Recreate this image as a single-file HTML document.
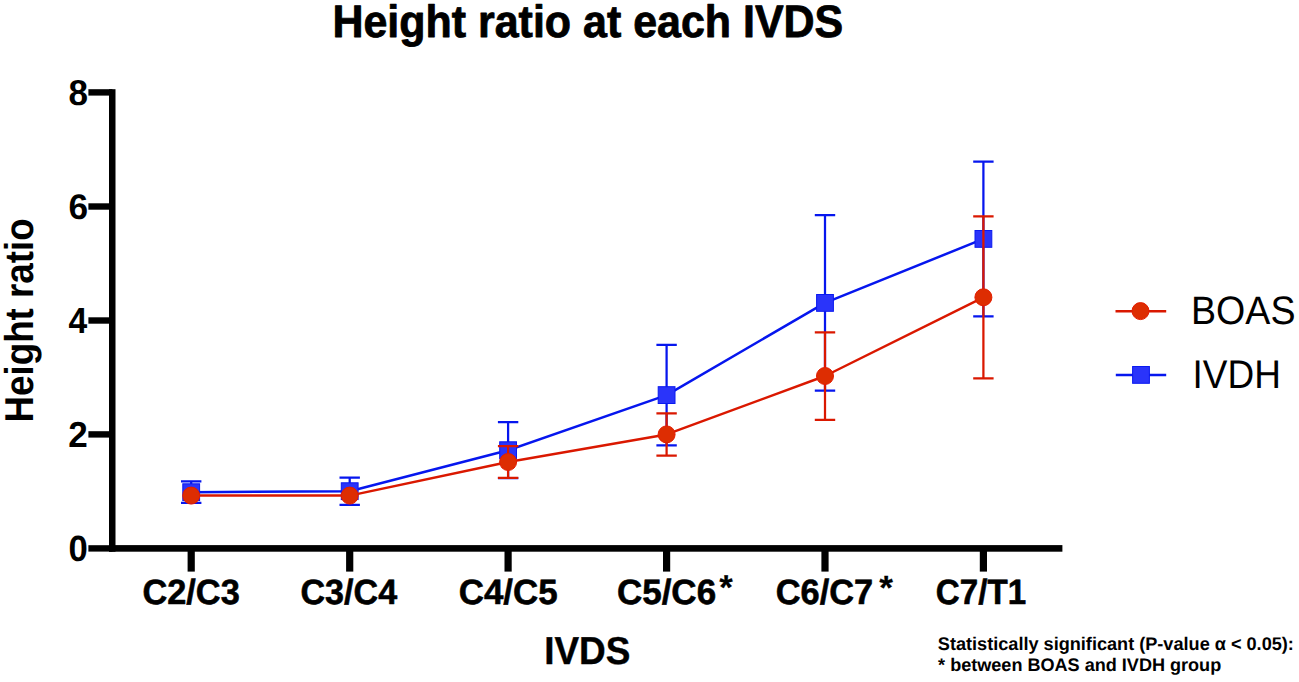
<!DOCTYPE html>
<html><head><meta charset="utf-8"><title>Height ratio at each IVDS</title>
<style>html,body{margin:0;padding:0;background:#fff;width:1299px;height:682px;overflow:hidden}svg{display:block}text{text-rendering:geometricPrecision}</style>
</head><body>
<svg width="1299" height="682" viewBox="0 0 1299 682">
<rect width="1299" height="682" fill="#fff"/>
<g fill="#000">
<rect x="109.0" y="89.2" width="6.5" height="462.5"/>
<rect x="88.4" y="89.20" width="24" height="6.4"/>
<rect x="88.4" y="203.30" width="24" height="6.4"/>
<rect x="88.4" y="317.30" width="24" height="6.4"/>
<rect x="88.4" y="431.20" width="24" height="6.4"/>
<rect x="88.4" y="545.20" width="24" height="6.4"/>
<rect x="109.0" y="545.1" width="953.4" height="6.6"/>
<rect x="187.60" y="548" width="7.2" height="23.6"/>
<rect x="346.10" y="548" width="7.2" height="23.6"/>
<rect x="504.50" y="548" width="7.2" height="23.6"/>
<rect x="663.00" y="548" width="7.2" height="23.6"/>
<rect x="821.40" y="548" width="7.2" height="23.6"/>
<rect x="979.80" y="548" width="7.2" height="23.6"/>
</g>
<text transform="matrix(0.8759 0 0 0.8982 68.41 104.75)" font-family="Liberation Sans, sans-serif" font-weight="bold" font-size="40">8</text>
<text transform="matrix(0.8810 0 0 0.8877 68.60 218.86)" font-family="Liberation Sans, sans-serif" font-weight="bold" font-size="40">6</text>
<text transform="matrix(0.8414 0 0 0.9055 68.38 332.80)" font-family="Liberation Sans, sans-serif" font-weight="bold" font-size="40">4</text>
<text transform="matrix(0.8769 0 0 0.9036 68.20 446.60)" font-family="Liberation Sans, sans-serif" font-weight="bold" font-size="40">2</text>
<text transform="matrix(0.8675 0 0 0.9123 68.40 560.94)" font-family="Liberation Sans, sans-serif" font-weight="bold" font-size="40">0</text>
<text transform="matrix(1.0739 0 0 1.1345 332.42 36.70)" font-family="Liberation Sans, sans-serif" font-weight="bold" font-size="40" stroke="#000" stroke-width="0.725" stroke-linejoin="round">Height ratio at each IVDS</text>
<text transform="matrix(0.9229 0 0 0.9709 544.19 663.80)" font-family="Liberation Sans, sans-serif" font-weight="bold" font-size="40" stroke="#000" stroke-width="0.422" stroke-linejoin="round">IVDS</text>
<text transform="matrix(0.9393 0 0 0.9927 1191.05 323.90)" font-family="Liberation Sans, sans-serif" font-weight="normal" font-size="40">BOAS</text>
<text transform="matrix(0.9236 0 0 1.0000 1192.57 387.90)" font-family="Liberation Sans, sans-serif" font-weight="normal" font-size="40">IVDH</text>
<text transform="matrix(0.4530 0 0 0.4582 937.83 649.80)" font-family="Liberation Sans, sans-serif" font-weight="bold" font-size="40">Statistically significant (P-value α &lt; 0.05):</text>
<text transform="matrix(0.4517 0 0 0.4545 938.09 671.00)" font-family="Liberation Sans, sans-serif" font-weight="bold" font-size="40">* between BOAS and IVDH group</text>
<text transform="matrix(0.8588 0 0 0.8800 142.41 603.60)" font-family="Liberation Sans, sans-serif" font-weight="bold" font-size="40" stroke="#000" stroke-width="0.690" stroke-linejoin="round">C2/C3</text>
<text transform="matrix(0.8528 0 0 0.8800 300.42 603.60)" font-family="Liberation Sans, sans-serif" font-weight="bold" font-size="40" stroke="#000" stroke-width="0.693" stroke-linejoin="round">C3/C4</text>
<text transform="matrix(0.8731 0 0 0.8800 458.69 603.60)" font-family="Liberation Sans, sans-serif" font-weight="bold" font-size="40" stroke="#000" stroke-width="0.684" stroke-linejoin="round">C4/C5</text>
<text transform="matrix(0.8751 0 0 0.8800 616.89 603.60)" font-family="Liberation Sans, sans-serif" font-weight="bold" font-size="40" stroke="#000" stroke-width="0.684" stroke-linejoin="round">C5/C6</text>
<text transform="matrix(0.8590 0 0 0.8800 775.81 603.60)" font-family="Liberation Sans, sans-serif" font-weight="bold" font-size="40" stroke="#000" stroke-width="0.690" stroke-linejoin="round">C6/C7</text>
<text transform="matrix(0.8282 0 0 0.8800 935.86 603.60)" font-family="Liberation Sans, sans-serif" font-weight="bold" font-size="40" stroke="#000" stroke-width="0.703" stroke-linejoin="round">C7/T1</text>
<text transform="matrix(0 -0.9187 1.0073 0 33.00 422.50)" font-family="Liberation Sans, sans-serif" font-weight="bold" font-size="40">Height ratio</text>
<text transform="matrix(0.8721 0 0 0.8600 719.18 598.65)" font-family="Liberation Sans, sans-serif" font-weight="bold" font-size="40" stroke="#000" stroke-width="0.229" stroke-linejoin="round">*</text>
<text transform="matrix(0.8787 0 0 0.8400 879.28 599.10)" font-family="Liberation Sans, sans-serif" font-weight="bold" font-size="40" stroke="#000" stroke-width="0.228" stroke-linejoin="round">*</text>
<path d="M1115.5 311.2H1166.2" stroke="#DA1800" stroke-width="2.5"/>
<circle cx="1140.5" cy="311.1" r="8.5" fill="#DD2D02" stroke="#E41C00" stroke-width="1"/>
<path d="M1115.8 375H1166.2" stroke="#0616EE" stroke-width="2.5"/>
<rect x="1132.60" y="366.50" width="16.8" height="16.8" fill="#2A34FA" stroke="#0A1AF0" stroke-width="1"/>
<path d="M191.2 481.45V502.95M181.00 481.45H201.40M181.00 502.95H201.40" stroke="#0616EE" stroke-width="2.25" fill="none"/>
<path d="M349.7 477.50V504.90M339.50 477.50H359.90M339.50 504.90H359.90" stroke="#0616EE" stroke-width="2.25" fill="none"/>
<path d="M508.1 422.20V478.20M497.90 422.20H518.30M497.90 478.20H518.30" stroke="#0616EE" stroke-width="2.25" fill="none"/>
<path d="M666.6 344.80V445.40M656.40 344.80H676.80M656.40 445.40H676.80" stroke="#0616EE" stroke-width="2.25" fill="none"/>
<path d="M825.0 215.15V390.65M814.80 215.15H835.20M814.80 390.65H835.20" stroke="#0616EE" stroke-width="2.25" fill="none"/>
<path d="M983.4 161.50V316.30M973.20 161.50H993.60M973.20 316.30H993.60" stroke="#0616EE" stroke-width="2.25" fill="none"/>
<polyline points="191.2,492.2 349.7,491.2 508.1,450.2 666.6,395.1 825.0,302.9 983.4,238.9" stroke="#0616EE" stroke-width="2.5" fill="none" stroke-linejoin="round"/>
<rect x="182.80" y="483.80" width="16.8" height="16.8" fill="#2A34FA" stroke="#0A1AF0" stroke-width="1"/>
<rect x="341.30" y="482.80" width="16.8" height="16.8" fill="#2A34FA" stroke="#0A1AF0" stroke-width="1"/>
<rect x="499.70" y="441.80" width="16.8" height="16.8" fill="#2A34FA" stroke="#0A1AF0" stroke-width="1"/>
<rect x="658.20" y="386.70" width="16.8" height="16.8" fill="#2A34FA" stroke="#0A1AF0" stroke-width="1"/>
<rect x="816.60" y="294.50" width="16.8" height="16.8" fill="#2A34FA" stroke="#0A1AF0" stroke-width="1"/>
<rect x="975.00" y="230.50" width="16.8" height="16.8" fill="#2A34FA" stroke="#0A1AF0" stroke-width="1"/>
<path d="M508.1 446.20V477.80M497.90 446.20H518.30M497.90 477.80H518.30" stroke="#DA1800" stroke-width="2.25" fill="none"/>
<path d="M666.6 413.30V455.50M656.40 413.30H676.80M656.40 455.50H676.80" stroke="#DA1800" stroke-width="2.25" fill="none"/>
<path d="M825.0 332.25V419.75M814.80 332.25H835.20M814.80 419.75H835.20" stroke="#DA1800" stroke-width="2.25" fill="none"/>
<path d="M983.4 216.30V378.30M973.20 216.30H993.60M973.20 378.30H993.60" stroke="#DA1800" stroke-width="2.25" fill="none"/>
<polyline points="191.2,495.6 349.7,495.6 508.1,462.0 666.6,434.4 825.0,376.0 983.4,297.3" stroke="#DA1800" stroke-width="2.5" fill="none" stroke-linejoin="round"/>
<circle cx="191.2" cy="495.6" r="8.5" fill="#DD2D02" stroke="#E41C00" stroke-width="1"/>
<circle cx="349.7" cy="495.6" r="8.5" fill="#DD2D02" stroke="#E41C00" stroke-width="1"/>
<circle cx="508.1" cy="462.0" r="8.5" fill="#DD2D02" stroke="#E41C00" stroke-width="1"/>
<circle cx="666.6" cy="434.4" r="8.5" fill="#DD2D02" stroke="#E41C00" stroke-width="1"/>
<circle cx="825.0" cy="376.0" r="8.5" fill="#DD2D02" stroke="#E41C00" stroke-width="1"/>
<circle cx="983.4" cy="297.3" r="8.5" fill="#DD2D02" stroke="#E41C00" stroke-width="1"/>
</svg>
</body></html>
